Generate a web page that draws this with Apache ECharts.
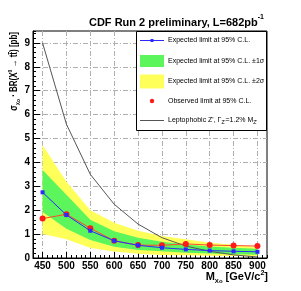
<!DOCTYPE html>
<html>
<head>
<meta charset="utf-8">
<script src="https://cdn.jsdelivr.net/npm/echarts@6/dist/echarts.min.js"></script>
<style>html,body{margin:0;padding:0;background:#fff;}#c{width:301px;height:291px;}</style>
</head>
<body>
<div id="c"></div>
<script>
const masses = [450, 500, 550, 600, 650, 700, 750, 800, 850, 900];
const expected = [2.75, 1.80, 1.14, 0.72, 0.53, 0.43, 0.36, 0.31, 0.28, 0.26];
const observed = [1.65, 1.83, 1.25, 0.72, 0.54, 0.53, 0.59, 0.54, 0.52, 0.50];
const sigma1Low = [1.92, 1.22, 0.75, 0.47, 0.34, 0.28, 0.22, 0.19, 0.16, 0.14];
const sigma1High = [3.68, 2.65, 1.60, 1.12, 0.85, 0.68, 0.57, 0.48, 0.43, 0.39];
const sigma2Low = [1.00, 0.78, 0.42, 0.27, 0.18, 0.13, 0.11, 0.09, 0.08, 0.07];
const sigma2High = [4.73, 3.19, 2.00, 1.48, 1.14, 0.92, 0.78, 0.64, 0.55, 0.46];
const zprime = [9.0, 5.6, 3.5, 2.25, 1.42, 0.85, 0.50, 0.28, 0.13, 0.04];
const xTicks = [450, 500, 550, 600, 650, 700, 750, 800, 850, 900];
const yTicks = [0, 1, 2, 3, 4, 5, 6, 7, 8, 9];

const pairs = (ys) => masses.map((m, i) => [m, ys[i]]);
const bandData = (lo, hi) => masses.map((m, i) => [m, lo[i], hi[i]]);

const YELLOW = '#ffff5a';
const GREEN = '#5cf55c';
const BLUE = '#2a2aff';
const RED = '#ff1a1a';
const GRID_DASH = { color: '#b0b0b0', width: 1, type: [5, 2, 1, 2] };
const FONT = 'Liberation Sans, Arial, sans-serif';

const chart = echarts.init(document.getElementById('c'), null, { renderer: 'canvas' });

function bandSeries(name, lo, hi, color, z) {
  return {
    name: name, type: 'custom', z: z, silent: true,
    data: bandData(lo, hi),
    encode: { x: 0, y: [1, 2] },
    renderItem: function (params, api) {
      if (params.dataIndex !== 0) return null;
      const top = masses.map((m, i) => api.coord([m, hi[i]]));
      const bot = masses.map((m, i) => api.coord([m, lo[i]])).reverse();
      return { type: 'polygon', shape: { points: top.concat(bot) }, style: { fill: color, stroke: null } };
    }
  };
}

const option = {
  animation: false,
  backgroundColor: '#fff',
  title: {
    text: '{a|CDF Run 2 preliminary, L=682pb}{s|-1}',
    right: 32, top: 9,
    textStyle: {
      rich: {
        a: { fontFamily: FONT, fontWeight: 'bold', fontSize: 11, color: '#000', lineHeight: 14, verticalAlign: 'bottom' },
        s: { fontFamily: FONT, fontWeight: 'bold', fontSize: 7, color: '#000', lineHeight: 14, verticalAlign: 'top' }
      }
    }
  },
  grid: { left: 33, right: 34, top: 31, bottom: 33, show: true, borderColor: '#000', borderWidth: 1, backgroundColor: 'transparent' },
  xAxis: [
    {
      type: 'value', min: 430, max: 920, position: 'bottom',
      axisLine: { show: true, onZero: false, lineStyle: { color: '#000', width: 1 } },
      axisTick: { show: true, inside: true, length: 6, customValues: xTicks, lineStyle: { color: '#000' } },
      axisLabel: { show: true, customValues: xTicks, margin: 3, color: '#000', fontFamily: FONT, fontWeight: 'bold', fontSize: 10 },
      splitLine: { show: true, lineStyle: GRID_DASH }
    },
    {
      type: 'value', min: 430, max: 920, interval: 10, position: 'bottom',
      axisLine: { show: false },
      axisTick: { show: true, inside: true, length: 3, lineStyle: { color: '#000' } },
      axisLabel: { show: false },
      splitLine: { show: false }
    }
  ],
  yAxis: [
    {
      type: 'value', min: 0, max: 9.5, position: 'left',
      axisLine: { show: true, onZero: false, lineStyle: { color: '#000', width: 1 } },
      axisTick: { show: true, inside: true, length: 7, customValues: yTicks, lineStyle: { color: '#000' } },
      axisLabel: { show: true, customValues: yTicks, margin: 3, color: '#000', fontFamily: FONT, fontWeight: 'bold', fontSize: 10 },
      splitLine: { show: true, lineStyle: GRID_DASH }
    },
    {
      type: 'value', min: 0, max: 9.5, interval: 0.2, position: 'left',
      axisLine: { show: false },
      axisTick: { show: true, inside: true, length: 3, lineStyle: { color: '#000' } },
      axisLabel: { show: false },
      splitLine: { show: false }
    }
  ],
  series: [
    bandSeries('Expected limit at 95% C.L. ±2σ', sigma2Low, sigma2High, YELLOW, 1),
    bandSeries('Expected limit at 95% C.L. ±1σ', sigma1Low, sigma1High, GREEN, 2),
    { name: "Leptophobic Z'", type: 'line', data: pairs(zprime), symbol: 'none', lineStyle: { color: '#555', width: 1 }, clip: true, z: 3 },
    { name: 'Observed limit at 95% C.L.', type: 'line', data: pairs(observed), symbol: 'circle', symbolSize: 6, itemStyle: { color: RED }, lineStyle: { color: '#ff4a2a', width: 1 }, z: 4 },
    { name: 'Expected limit at 95% C.L.', type: 'line', data: pairs(expected), symbol: 'rect', symbolSize: 4, itemStyle: { color: BLUE }, lineStyle: { color: BLUE, width: 1 }, z: 5 }
  ],
  graphic: [
    {
      type: 'text', x: 14, y: 32, rotation: Math.PI / 2, scaleX: 0.8, z: 100,
      style: {
        text: '{a|σ}{s|Xo}{a| · BR(X}{u|0}{a| → tt̄) [pb]}',
        align: 'right', verticalAlign: 'middle',
        rich: {
          a: { fontFamily: FONT, fontWeight: 'bold', fontSize: 10, fill: '#000', lineHeight: 14, verticalAlign: 'middle' },
          s: { fontFamily: FONT, fontWeight: 'bold', fontSize: 6, fill: '#000', lineHeight: 14, verticalAlign: 'bottom' },
          u: { fontFamily: FONT, fontWeight: 'bold', fontSize: 6, fill: '#000', lineHeight: 14, verticalAlign: 'top' }
        }
      }
    },
    {
      type: 'text', x: 268, y: 277, z: 100,
      style: {
        text: '{a|M}{s|Xo}{a| [GeV/c}{u|2}{a|]}',
        align: 'right', verticalAlign: 'middle',
        rich: {
          a: { fontFamily: FONT, fontWeight: 'bold', fontSize: 11, fill: '#000', lineHeight: 14, verticalAlign: 'middle' },
          s: { fontFamily: FONT, fontWeight: 'bold', fontSize: 6, fill: '#000', lineHeight: 14, verticalAlign: 'bottom' },
          u: { fontFamily: FONT, fontWeight: 'bold', fontSize: 7, fill: '#000', lineHeight: 14, verticalAlign: 'top' }
        }
      }
    },
    {
      type: 'group', z: 100,
      children: [
        { type: 'rect', shape: { x: 136.5, y: 31.5, width: 130, height: 99 }, style: { fill: '#fff', stroke: '#000', lineWidth: 1 }, z: 100 },
        { type: 'line', shape: { x1: 140, y1: 40.5, x2: 164, y2: 40.5 }, style: { stroke: BLUE, lineWidth: 1 }, z: 101 },
        { type: 'rect', shape: { x: 150.5, y: 39, width: 3, height: 3 }, style: { fill: BLUE }, z: 102 },
        { type: 'rect', shape: { x: 140, y: 55, width: 24, height: 12 }, style: { fill: GREEN }, z: 101 },
        { type: 'rect', shape: { x: 140, y: 74.5, width: 24, height: 14 }, style: { fill: YELLOW }, z: 101 },
        { type: 'circle', shape: { cx: 152, cy: 101, r: 2.2 }, style: { fill: RED }, z: 101 },
        { type: 'line', shape: { x1: 140, y1: 120.5, x2: 164, y2: 120.5 }, style: { stroke: '#555', lineWidth: 1 }, z: 101 },
        { type: 'text', x: 168, y: 40.5, z: 101, style: { text: 'Expected limit at 95% C.L.', fontFamily: FONT, fontSize: 7, fill: '#000', verticalAlign: 'middle' } },
        { type: 'text', x: 168, y: 61, z: 101, style: { text: 'Expected limit at 95% C.L. ±1σ', fontFamily: FONT, fontSize: 7, fill: '#000', verticalAlign: 'middle' } },
        { type: 'text', x: 168, y: 81, z: 101, style: { text: 'Expected limit at 95% C.L. ±2σ', fontFamily: FONT, fontSize: 7, fill: '#000', verticalAlign: 'middle' } },
        { type: 'text', x: 168, y: 101, z: 101, style: { text: 'Observed limit at 95% C.L.', fontFamily: FONT, fontSize: 7, fill: '#000', verticalAlign: 'middle' } },
        { type: 'text', x: 168, y: 120.5, z: 101, style: {
            text: "{a|Leptophobic Z', Γ}{s|Z'}{a|=1.2% M}{s|Z'}", verticalAlign: 'middle',
            rich: {
              a: { fontFamily: FONT, fontSize: 7, fill: '#000', lineHeight: 10, verticalAlign: 'middle' },
              s: { fontFamily: FONT, fontSize: 5, fill: '#000', lineHeight: 10, verticalAlign: 'bottom' }
            } } }
      ]
    }
  ]
};
chart.setOption(option);
</script>
</body>
</html>
